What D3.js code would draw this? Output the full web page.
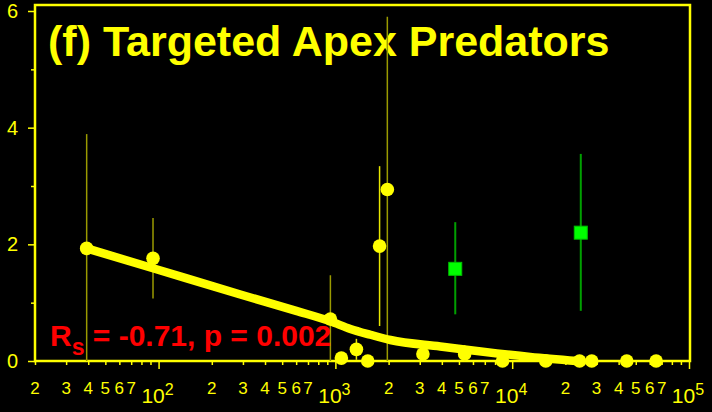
<!DOCTYPE html>
<html>
<head>
<meta charset="utf-8">
<script src="https://cdn.jsdelivr.net/npm/d3@7"></script>
<style>
  html, body { margin: 0; padding: 0; background: #000; }
  svg { display: block; font-family: "Liberation Sans", Arial, sans-serif; }
</style>
</head>
<body>
<div id="chart"></div>
<script>
//============ data =========//
// yellow circles (sites)
var siteX = [39.2, 93, 937, 1081, 1315, 1524, 1778, 1967, 3126, 5383, 8814, 15490, 24050, 28180, 44460, 65170];
var siteY = [1.93, 1.76, 0.72, 0.05, 0.20, 0, 1.97, 2.94, 0.12, 0.12, 0, 0, 0, 0, 0, 0];
var siteLo = [0, 1.07, 0, null, 0.02, null, 0.60, 0, null, 0, null, null, null, null, null, null];
var siteHi = [3.89, 2.45, 1.47, null, 0.38, null, 3.34, 5.90, null, 0.27, null, null, null, null, null, null];

// green squares
var boxX = [4764, 24430];
var boxY = [1.58, 2.20];
var boxLo = [0.80, 0.86];
var boxHi = [2.38, 3.55];

// smoothed fit line
var fitX = [39.2, 93, 290, 600, 937, 1216, 1578, 2046, 3917, 12650, 23280];
var fitY = [1.93, 1.59, 1.14, 0.86, 0.68, 0.55, 0.45, 0.36, 0.25, 0.07, 0];

var yMajor = [0, 2, 4, 6];
var yMinor = [1, 3, 5];
var xDecades = [100, 1000, 10000, 100000];
var xExpLabels = ['2', '3', '4', '5'];
var xMinorLabels = [2, 3, 4, 5, 6, 7];

var title = '(f) Targeted Apex Predators';
var statMain = 'R', statSub = 's', statRest = ' = -0.71, p = 0.002';

//============ styles =========//
var yellow = '#ffff00', olive = '#9a9a00', green = '#00ff00', darkGreen = '#00a000', red = '#ff0000';
var fadedBars = [0, 1, 2, 7]; // error bars drawn in olive

var W = 712, H = 412;
var margin = {top: 5, right: 23, bottom: 51, left: 35};

var x = d3.scaleLog().domain([20, 1e5]).range([35, 689]);
var y = d3.scaleLinear().domain([0, 6]).range([361, 11]);

var svg = d3.select('#chart').append('svg')
  .attr('width', W)
  .attr('height', H)
  .style('background', '#000');

//frame
svg.append('rect')
  .attr('x', margin.left)
  .attr('y', margin.top)
  .attr('width', 690 - margin.left)
  .attr('height', 361 - margin.top)
  .attr('fill', 'none')
  .attr('stroke', yellow)
  .attr('stroke-width', 2.5);

//y axis
var yAx = svg.append('g').attr('transform', 'translate(35,0)')
  .call(d3.axisLeft(y).tickValues(yMajor).tickSize(7).tickPadding(10).tickFormat(d3.format('d')));
svg.append('g').attr('transform', 'translate(35,0)')
  .call(d3.axisLeft(y).tickValues(yMinor).tickSize(4).tickFormat(''));

//x axis: all minor ticks for each decade
var minorTicks = [];
[10, 100, 1000, 10000].forEach(function(d) {
  for (var k = 2; k <= 9; k++) {
    if (d * k >= 20) minorTicks.push(d * k);
  }
});
svg.append('g').attr('transform', 'translate(0,361)')
  .call(d3.axisBottom(x).tickValues(minorTicks).tickSize(4).tickFormat(''));
svg.append('g').attr('transform', 'translate(0,361)')
  .call(d3.axisBottom(x).tickValues(xDecades).tickSize(8).tickFormat(''));

svg.selectAll('.domain').remove();
svg.selectAll('.tick line').attr('stroke', yellow).attr('stroke-width', 1.5);
yAx.selectAll('.tick text').attr('fill', yellow).style('font-size', '20px');

//x minor labels
var minorLab = [];
[10, 100, 1000, 10000].forEach(function(d) {
  xMinorLabels.forEach(function(k) {
    if (d * k >= 20) minorLab.push({v: d * k, t: k});
  });
});
svg.append('g').selectAll('text')
  .data(minorLab)
  .enter().append('text')
  .attr('x', function(d) { return x(d.v); })
  .attr('y', 394)
  .attr('text-anchor', 'middle')
  .attr('fill', yellow)
  .style('font-size', '17px')
  .text(function(d) { return d.t; });

//x decade labels 10^n
var dec = svg.append('g').selectAll('text')
  .data(xDecades)
  .enter().append('text')
  .attr('x', function(d) { return x(d) - 1; })
  .attr('y', 403)
  .attr('text-anchor', 'middle')
  .attr('fill', yellow);
dec.append('tspan').style('font-size', '21px').text('10');
dec.append('tspan').style('font-size', '16px').attr('dy', -8)
  .text(function(d, i) { return xExpLabels[i]; });

//title
svg.append('text')
  .attr('x', 48)
  .attr('y', 56)
  .attr('fill', yellow)
  .style('font-size', '43px')
  .style('font-weight', 'bold')
  .text(title);

//error bars for circles
var sites = siteX.map(function(v, i) {
  return {x: v, y: siteY[i], lo: siteLo[i], hi: siteHi[i], i: i};
});
svg.append('g').selectAll('line')
  .data(sites.filter(function(d) { return d.hi !== null; }))
  .enter().append('line')
  .attr('x1', function(d) { return x(d.x); })
  .attr('x2', function(d) { return x(d.x); })
  .attr('y1', function(d) { return y(d.lo); })
  .attr('y2', function(d) { return y(d.hi); })
  .attr('stroke', function(d) { return fadedBars.indexOf(d.i) >= 0 ? olive : '#e6e600'; })
  .attr('stroke-width', 1.5);

//error bars for squares
var boxes = boxX.map(function(v, i) {
  return {x: v, y: boxY[i], lo: boxLo[i], hi: boxHi[i]};
});
svg.append('g').selectAll('line')
  .data(boxes)
  .enter().append('line')
  .attr('x1', function(d) { return x(d.x); })
  .attr('x2', function(d) { return x(d.x); })
  .attr('y1', function(d) { return y(d.lo); })
  .attr('y2', function(d) { return y(d.hi); })
  .attr('stroke', darkGreen)
  .attr('stroke-width', 2);

//fit line
var fit = fitX.map(function(v, i) { return [v, fitY[i]]; });
svg.append('path')
  .datum(fit)
  .attr('d', d3.line()
    .x(function(d) { return x(d[0]); })
    .y(function(d) { return y(d[1]); })
    .curve(d3.curveMonotoneX))
  .attr('fill', 'none')
  .attr('stroke', yellow)
  .attr('stroke-width', 8.5)
  .attr('stroke-linecap', 'round');

//stat text
var st = svg.append('text')
  .attr('x', 50)
  .attr('y', 346)
  .attr('fill', red)
  .style('font-weight', 'bold')
  .style('font-size', '30px');
st.append('tspan').text(statMain);
st.append('tspan').style('font-size', '23px').attr('dy', 9).text(statSub);
st.append('tspan').attr('dy', -9).text(statRest);

//circles
svg.append('g').selectAll('circle')
  .data(sites)
  .enter().append('circle')
  .attr('cx', function(d) { return x(d.x); })
  .attr('cy', function(d) { return y(d.y); })
  .attr('r', 6.8)
  .attr('fill', yellow);

//squares
svg.append('g').selectAll('rect')
  .data(boxes)
  .enter().append('rect')
  .attr('x', function(d) { return x(d.x) - 6.5; })
  .attr('y', function(d) { return y(d.y) - 6.5; })
  .attr('width', 13)
  .attr('height', 13)
  .attr('fill', green)
  .attr('stroke', '#00c000')
  .attr('stroke-width', 1);
</script>
</body>
</html>
